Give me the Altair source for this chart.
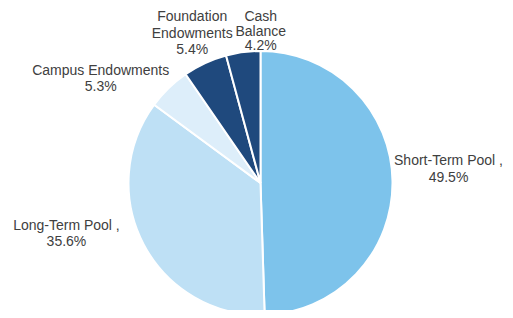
import altair as alt
import pandas as pd

categories = ["Short-Term Pool", "Long-Term Pool", "Campus Endowments",
              "Foundation Endowments", "Cash Balance"]
shares = [49.5, 35.6, 5.3, 5.4, 4.2]
labels = ["Short-Term Pool ,\n49.5%", "Long-Term Pool ,\n35.6%",
          "Campus Endowments\n5.3%", "Foundation\nEndowments\n5.4%",
          "Cash\nBalance\n4.2%"]
colors = ["#7DC3EB", "#BEE0F5", "#DDEEFA", "#1F497D", "#1F497D"]

df = pd.DataFrame({
    "idx": list(range(len(categories))),
    "category": categories,
    "share": shares,
    "label": labels,
})

CX, CY = 252.5, 175
R = 132

base = alt.Chart(df)

pie = base.mark_arc(outerRadius=R, stroke="white", strokeWidth=2).encode(
    theta=alt.Theta("share:Q", stack=True),
    order=alt.Order("idx:Q"),
    color=alt.Color("category:N", scale=alt.Scale(domain=categories, range=colors), legend=None),
    x=alt.value(CX),
    y=alt.value(CY),
)

# per-label fine offsets (dx, dy) relative to polar anchor
offsets = [(23, -19), (-48, -34), (-45, 6), (1, -16), (22, -2)]
line_heights = [16.5, 16.5, 16.5, 16.5, 14.5]

text_base = base.transform_window(
    cum="sum(share)", sort=[alt.SortField("idx")], frame=[None, 0]
).transform_joinaggregate(
    total="sum(share)"
).transform_calculate(
    mid="(datum.cum - datum.share/2) / datum.total * 2 * PI"
)

layers = [pie]
for i, (dx, dy) in enumerate(offsets):
    layers.append(
        text_base.transform_filter(alt.datum.idx == i).mark_text(
            radius=165, dx=dx, dy=dy, lineBreak="\n", font="Liberation Sans",
            fontSize=14, lineHeight=line_heights[i], color="#404040",
            align="center", baseline="middle"
        ).encode(
            theta=alt.Theta("mid:Q", scale=None),
            text="label:N",
            x=alt.value(CX),
            y=alt.value(CY),
        )
    )

chart = alt.layer(*layers).properties(
    width=497, height=302, autosize="none", padding=0
).configure_view(stroke=None)

chart.save("out.html", embed_options={"renderer": "svg", "actions": False})
